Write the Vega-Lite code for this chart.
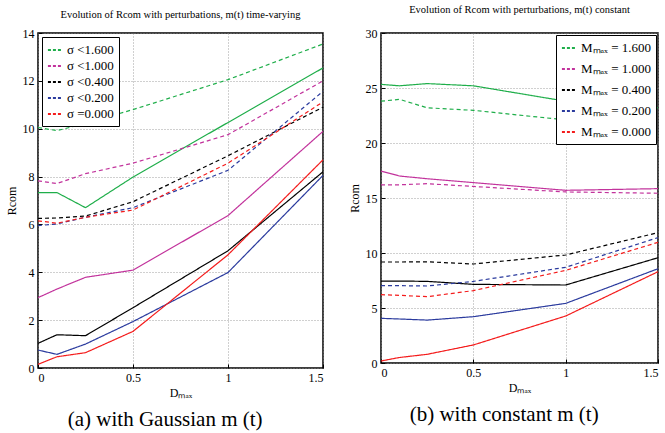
{
  "$schema": "https://vega.github.io/schema/vega-lite/v6.json",
  "padding": {"left": 4, "top": 3, "right": 4, "bottom": 2},
  "background": "white",
  "datasets": {
    "a": [
      {"s": "σ <1.600", "t": "dashed", "x": 0, "y": 10.05}, {"s": "σ <1.600", "t": "dashed", "x": 0.1, "y": 9.92}, {"s": "σ <1.600", "t": "dashed", "x": 0.25, "y": 10.22}, {"s": "σ <1.600", "t": "dashed", "x": 0.5, "y": 10.8}, {"s": "σ <1.600", "t": "dashed", "x": 1, "y": 12.05}, {"s": "σ <1.600", "t": "dashed", "x": 1.5, "y": 13.54},
      {"s": "σ <1.600", "t": "solid", "x": 0, "y": 7.33}, {"s": "σ <1.600", "t": "solid", "x": 0.1, "y": 7.33}, {"s": "σ <1.600", "t": "solid", "x": 0.25, "y": 6.7}, {"s": "σ <1.600", "t": "solid", "x": 0.5, "y": 7.98}, {"s": "σ <1.600", "t": "solid", "x": 1, "y": 10.26}, {"s": "σ <1.600", "t": "solid", "x": 1.5, "y": 12.54},
      {"s": "σ <1.000", "t": "dashed", "x": 0, "y": 7.82}, {"s": "σ <1.000", "t": "dashed", "x": 0.1, "y": 7.71}, {"s": "σ <1.000", "t": "dashed", "x": 0.25, "y": 8.12}, {"s": "σ <1.000", "t": "dashed", "x": 0.5, "y": 8.56}, {"s": "σ <1.000", "t": "dashed", "x": 1, "y": 9.75}, {"s": "σ <1.000", "t": "dashed", "x": 1.5, "y": 12.0},
      {"s": "σ <1.000", "t": "solid", "x": 0, "y": 2.94}, {"s": "σ <1.000", "t": "solid", "x": 0.1, "y": 3.3}, {"s": "σ <1.000", "t": "solid", "x": 0.25, "y": 3.79}, {"s": "σ <1.000", "t": "solid", "x": 0.5, "y": 4.09}, {"s": "σ <1.000", "t": "solid", "x": 1, "y": 6.37}, {"s": "σ <1.000", "t": "solid", "x": 1.5, "y": 9.89},
      {"s": "σ <0.400", "t": "dashed", "x": 0, "y": 6.25}, {"s": "σ <0.400", "t": "dashed", "x": 0.1, "y": 6.27}, {"s": "σ <0.400", "t": "dashed", "x": 0.25, "y": 6.35}, {"s": "σ <0.400", "t": "dashed", "x": 0.5, "y": 6.95}, {"s": "σ <0.400", "t": "dashed", "x": 1, "y": 8.87}, {"s": "σ <0.400", "t": "dashed", "x": 1.5, "y": 10.9},
      {"s": "σ <0.400", "t": "solid", "x": 0, "y": 1.03}, {"s": "σ <0.400", "t": "solid", "x": 0.1, "y": 1.39}, {"s": "σ <0.400", "t": "solid", "x": 0.25, "y": 1.35}, {"s": "σ <0.400", "t": "solid", "x": 0.5, "y": 2.52}, {"s": "σ <0.400", "t": "solid", "x": 1, "y": 4.9}, {"s": "σ <0.400", "t": "solid", "x": 1.5, "y": 8.2},
      {"s": "σ <0.200", "t": "dashed", "x": 0, "y": 5.95}, {"s": "σ <0.200", "t": "dashed", "x": 0.1, "y": 6.02}, {"s": "σ <0.200", "t": "dashed", "x": 0.25, "y": 6.3}, {"s": "σ <0.200", "t": "dashed", "x": 0.5, "y": 6.7}, {"s": "σ <0.200", "t": "dashed", "x": 1, "y": 8.26}, {"s": "σ <0.200", "t": "dashed", "x": 1.5, "y": 11.56},
      {"s": "σ <0.200", "t": "solid", "x": 0, "y": 0.75}, {"s": "σ <0.200", "t": "solid", "x": 0.1, "y": 0.57}, {"s": "σ <0.200", "t": "solid", "x": 0.25, "y": 1.0}, {"s": "σ <0.200", "t": "solid", "x": 0.5, "y": 1.94}, {"s": "σ <0.200", "t": "solid", "x": 1, "y": 3.99}, {"s": "σ <0.200", "t": "solid", "x": 1.5, "y": 8.05},
      {"s": "σ =0.000", "t": "dashed", "x": 0, "y": 6.15}, {"s": "σ =0.000", "t": "dashed", "x": 0.1, "y": 6.05}, {"s": "σ =0.000", "t": "dashed", "x": 0.25, "y": 6.3}, {"s": "σ =0.000", "t": "dashed", "x": 0.5, "y": 6.6}, {"s": "σ =0.000", "t": "dashed", "x": 1, "y": 8.56}, {"s": "σ =0.000", "t": "dashed", "x": 1.5, "y": 11.12},
      {"s": "σ =0.000", "t": "solid", "x": 0, "y": 0.15}, {"s": "σ =0.000", "t": "solid", "x": 0.1, "y": 0.47}, {"s": "σ =0.000", "t": "solid", "x": 0.25, "y": 0.64}, {"s": "σ =0.000", "t": "solid", "x": 0.5, "y": 1.53}, {"s": "σ =0.000", "t": "solid", "x": 1, "y": 4.73}, {"s": "σ =0.000", "t": "solid", "x": 1.5, "y": 8.7}
    ],
    "b": [
      {"s": "Mₘₐₓ = 1.600", "t": "solid", "x": 0, "y": 25.33}, {"s": "Mₘₐₓ = 1.600", "t": "solid", "x": 0.1, "y": 25.2}, {"s": "Mₘₐₓ = 1.600", "t": "solid", "x": 0.25, "y": 25.4}, {"s": "Mₘₐₓ = 1.600", "t": "solid", "x": 0.5, "y": 25.2}, {"s": "Mₘₐₓ = 1.600", "t": "solid", "x": 1, "y": 23.8}, {"s": "Mₘₐₓ = 1.600", "t": "solid", "x": 1.5, "y": 23.2},
      {"s": "Mₘₐₓ = 1.600", "t": "dashed", "x": 0, "y": 23.8}, {"s": "Mₘₐₓ = 1.600", "t": "dashed", "x": 0.1, "y": 23.97}, {"s": "Mₘₐₓ = 1.600", "t": "dashed", "x": 0.25, "y": 23.2}, {"s": "Mₘₐₓ = 1.600", "t": "dashed", "x": 0.5, "y": 22.97}, {"s": "Mₘₐₓ = 1.600", "t": "dashed", "x": 1, "y": 22.1}, {"s": "Mₘₐₓ = 1.600", "t": "dashed", "x": 1.5, "y": 20.7},
      {"s": "Mₘₐₓ = 1.000", "t": "solid", "x": 0, "y": 17.45}, {"s": "Mₘₐₓ = 1.000", "t": "solid", "x": 0.1, "y": 17.0}, {"s": "Mₘₐₓ = 1.000", "t": "solid", "x": 0.25, "y": 16.75}, {"s": "Mₘₐₓ = 1.000", "t": "solid", "x": 0.5, "y": 16.4}, {"s": "Mₘₐₓ = 1.000", "t": "solid", "x": 1, "y": 15.7}, {"s": "Mₘₐₓ = 1.000", "t": "solid", "x": 1.5, "y": 15.85},
      {"s": "Mₘₐₓ = 1.000", "t": "dashed", "x": 0, "y": 16.2}, {"s": "Mₘₐₓ = 1.000", "t": "dashed", "x": 0.1, "y": 16.2}, {"s": "Mₘₐₓ = 1.000", "t": "dashed", "x": 0.25, "y": 16.3}, {"s": "Mₘₐₓ = 1.000", "t": "dashed", "x": 0.5, "y": 16.05}, {"s": "Mₘₐₓ = 1.000", "t": "dashed", "x": 1, "y": 15.55}, {"s": "Mₘₐₓ = 1.000", "t": "dashed", "x": 1.5, "y": 15.43},
      {"s": "Mₘₐₓ = 0.400", "t": "dashed", "x": 0, "y": 9.18}, {"s": "Mₘₐₓ = 0.400", "t": "dashed", "x": 0.1, "y": 9.18}, {"s": "Mₘₐₓ = 0.400", "t": "dashed", "x": 0.25, "y": 9.2}, {"s": "Mₘₐₓ = 0.400", "t": "dashed", "x": 0.5, "y": 9.0}, {"s": "Mₘₐₓ = 0.400", "t": "dashed", "x": 1, "y": 9.82}, {"s": "Mₘₐₓ = 0.400", "t": "dashed", "x": 1.5, "y": 11.85},
      {"s": "Mₘₐₓ = 0.400", "t": "solid", "x": 0, "y": 7.45}, {"s": "Mₘₐₓ = 0.400", "t": "solid", "x": 0.1, "y": 7.45}, {"s": "Mₘₐₓ = 0.400", "t": "solid", "x": 0.25, "y": 7.42}, {"s": "Mₘₐₓ = 0.400", "t": "solid", "x": 0.5, "y": 7.15}, {"s": "Mₘₐₓ = 0.400", "t": "solid", "x": 1, "y": 7.09}, {"s": "Mₘₐₓ = 0.400", "t": "solid", "x": 1.5, "y": 9.57},
      {"s": "Mₘₐₓ = 0.200", "t": "dashed", "x": 0, "y": 7.03}, {"s": "Mₘₐₓ = 0.200", "t": "dashed", "x": 0.1, "y": 7.03}, {"s": "Mₘₐₓ = 0.200", "t": "dashed", "x": 0.25, "y": 7.0}, {"s": "Mₘₐₓ = 0.200", "t": "dashed", "x": 0.5, "y": 7.42}, {"s": "Mₘₐₓ = 0.200", "t": "dashed", "x": 1, "y": 8.7}, {"s": "Mₘₐₓ = 0.200", "t": "dashed", "x": 1.5, "y": 11.4},
      {"s": "Mₘₐₓ = 0.200", "t": "solid", "x": 0, "y": 4.06}, {"s": "Mₘₐₓ = 0.200", "t": "solid", "x": 0.1, "y": 4.0}, {"s": "Mₘₐₓ = 0.200", "t": "solid", "x": 0.25, "y": 3.9}, {"s": "Mₘₐₓ = 0.200", "t": "solid", "x": 0.5, "y": 4.21}, {"s": "Mₘₐₓ = 0.200", "t": "solid", "x": 1, "y": 5.42}, {"s": "Mₘₐₓ = 0.200", "t": "solid", "x": 1.5, "y": 8.57},
      {"s": "Mₘₐₓ = 0.000", "t": "dashed", "x": 0, "y": 6.21}, {"s": "Mₘₐₓ = 0.000", "t": "dashed", "x": 0.1, "y": 6.15}, {"s": "Mₘₐₓ = 0.000", "t": "dashed", "x": 0.25, "y": 6.03}, {"s": "Mₘₐₓ = 0.000", "t": "dashed", "x": 0.5, "y": 6.58}, {"s": "Mₘₐₓ = 0.000", "t": "dashed", "x": 1, "y": 8.42}, {"s": "Mₘₐₓ = 0.000", "t": "dashed", "x": 1.5, "y": 10.97},
      {"s": "Mₘₐₓ = 0.000", "t": "solid", "x": 0, "y": 0.18}, {"s": "Mₘₐₓ = 0.000", "t": "solid", "x": 0.1, "y": 0.5}, {"s": "Mₘₐₓ = 0.000", "t": "solid", "x": 0.25, "y": 0.79}, {"s": "Mₘₐₓ = 0.000", "t": "solid", "x": 0.5, "y": 1.64}, {"s": "Mₘₐₓ = 0.000", "t": "solid", "x": 1, "y": 4.27}, {"s": "Mₘₐₓ = 0.000", "t": "solid", "x": 1.5, "y": 8.3}
    ]
  },
  "hconcat": [
    {
      "title": {"text": "(a) with Gaussian m (t)", "orient": "bottom", "anchor": "middle", "fontSize": 21, "font": "Liberation Serif", "fontWeight": "normal", "offset": 10},
      "resolve": {"legend": {"color": "independent"}, "scale": {"color": "independent"}},
      "vconcat": [
        {
          "title": {"text": "Evolution of Rcom with perturbations, m(t) time-varying", "anchor": "middle", "fontSize": 10.5, "font": "Liberation Serif", "fontWeight": "normal", "offset": 7},
          "width": 285,
          "height": 335,
          "data": {"name": "a"},
          "mark": {"type": "line", "strokeWidth": 1.2},
          "encoding": {
            "x": {"field": "x", "type": "quantitative", "scale": {"domain": [0, 1.5], "nice": false}, "axis": {"values": [0, 0.5, 1, 1.5], "format": "~g", "title": "Dₘₐₓ"}},
            "y": {"field": "y", "type": "quantitative", "scale": {"domain": [0, 14], "nice": false}, "axis": {"values": [0, 2, 4, 6, 8, 10, 12, 14], "title": "Rcom"}},
            "color": {
              "field": "s", "type": "nominal",
              "scale": {"domain": ["σ <1.600", "σ <1.000", "σ <0.400", "σ <0.200", "σ =0.000"], "range": ["#1fae4a", "#c2339c", "#000000", "#2b3b9e", "#f41c1c"]},
              "legend": {"title": null, "orient": "top-left", "offset": 4, "rowPadding": 1}
            },
            "strokeDash": {"field": "t", "type": "nominal", "scale": {"domain": ["dashed", "solid"], "range": [[4, 3], [1, 0]]}, "legend": null},
            "strokeWidth": {"field": "t", "type": "nominal", "scale": {"domain": ["dashed", "solid"], "range": [1.8, 1.1]}, "legend": null}
          }
        }
      ]
    },
    {
      "title": {"text": "(b) with constant m (t)", "orient": "bottom", "anchor": "middle", "fontSize": 21, "font": "Liberation Serif", "fontWeight": "normal", "offset": 10},
      "resolve": {"legend": {"color": "independent"}, "scale": {"color": "independent"}},
      "vconcat": [
        {
          "title": {"text": "Evolution of Rcom with perturbations, m(t) constant", "anchor": "middle", "fontSize": 10.5, "font": "Liberation Serif", "fontWeight": "normal", "offset": 12},
          "width": 277,
          "height": 330,
          "data": {"name": "b"},
          "mark": {"type": "line", "strokeWidth": 1.2},
          "encoding": {
            "x": {"field": "x", "type": "quantitative", "scale": {"domain": [0, 1.5], "nice": false}, "axis": {"values": [0, 0.5, 1, 1.5], "format": "~g", "title": "Dₘₐₓ"}},
            "y": {"field": "y", "type": "quantitative", "scale": {"domain": [0, 30], "nice": false}, "axis": {"values": [0, 5, 10, 15, 20, 25, 30], "title": "Rcom"}},
            "color": {
              "field": "s", "type": "nominal",
              "scale": {"domain": ["Mₘₐₓ = 1.600", "Mₘₐₓ = 1.000", "Mₘₐₓ = 0.400", "Mₘₐₓ = 0.200", "Mₘₐₓ = 0.000"], "range": ["#1fae4a", "#c2339c", "#000000", "#2b3b9e", "#f41c1c"]},
              "legend": {"title": null, "orient": "top-right", "offset": 2, "rowPadding": 6}
            },
            "strokeDash": {"field": "t", "type": "nominal", "scale": {"domain": ["dashed", "solid"], "range": [[4, 3], [1, 0]]}, "legend": null},
            "strokeWidth": {"field": "t", "type": "nominal", "scale": {"domain": ["dashed", "solid"], "range": [1.8, 1.1]}, "legend": null}
          }
        }
      ]
    }
  ],
  "spacing": 20,
  "resolve": {"scale": {"color": "independent", "x": "independent", "y": "independent", "strokeDash": "independent", "strokeWidth": "independent"}, "legend": {"color": "independent"}},
  "config": {
    "view": {"stroke": "black", "strokeWidth": 1.5},
    "axis": {
      "domain": false,
      "grid": true,
      "gridColor": "#888888",
      "gridDash": [1, 2],
      "gridWidth": 0.8,
      "ticks": true,
      "tickSize": -4,
      "tickColor": "black",
      "labelFont": "Liberation Serif",
      "labelFontSize": 12,
      "labelColor": "black",
      "labelPadding": 8,
      "titleFont": "Liberation Serif",
      "titleFontSize": 12,
      "titleFontWeight": "normal",
      "titleColor": "black",
      "titlePadding": 4
    },
    "legend": {
      "symbolType": "stroke",
      "symbolDash": [3, 2],
      "symbolStrokeWidth": 1.8,
      "symbolSize": 200,
      "labelFont": "Liberation Serif",
      "labelFontSize": 13,
      "labelColor": "black",
      "strokeColor": "black",
      "fillColor": "white",
      "padding": 5,
      "cornerRadius": 0
    },
    "title": {"color": "black"}
  }
}
